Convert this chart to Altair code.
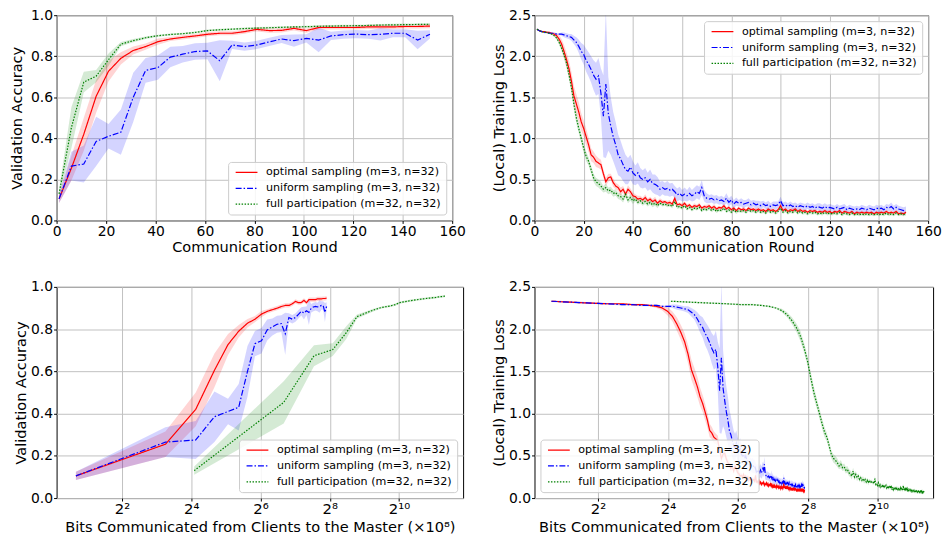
import altair as alt
import pandas as pd

METHODS = ["optimal sampling (m=3, n=32)",
           "uniform sampling (m=3, n=32)",
           "full participation (m=32, n=32)"]
COLORS = ["#ff0000", "#0000ff", "#008000"]
DASHES = [[1, 0], [6, 2, 1.5, 2], [1.5, 1.5]]
CLIENTS_PER_ROUND = [3, 3, 32]
BITS_PER_CLIENT_ROUND = 0.53  # (x10^8 bits)

# ---------------- validation accuracy (every 5 rounds) ----------------
ACC_ROUNDS = list(range(1, 152, 5))
ACC_OPT = [0.105, 0.255, 0.42, 0.605, 0.727, 0.79, 0.828, 0.847, 0.871, 0.884, 0.892,
           0.899, 0.907, 0.912, 0.912, 0.920, 0.931, 0.925, 0.926, 0.936, 0.925,
           0.940, 0.940, 0.940, 0.940, 0.943, 0.943, 0.943, 0.945, 0.945, 0.947]
ACC_OPT_SD = [0.02, 0.06, 0.08, 0.08, 0.05, 0.03, 0.02, 0.015, 0.015, 0.01, 0.01,
              0.01, 0.01, 0.01, 0.01, 0.01, 0.01, 0.01, 0.01, 0.01, 0.01,
              0.01, 0.01, 0.01, 0.01, 0.01, 0.01, 0.01, 0.01, 0.01, 0.01]
ACC_UNI = [0.105, 0.265, 0.275, 0.385, 0.41, 0.43, 0.60, 0.731, 0.745, 0.796, 0.81,
           0.823, 0.826, 0.778, 0.855, 0.847, 0.855, 0.870, 0.884, 0.876, 0.887,
           0.879, 0.899, 0.905, 0.908, 0.905, 0.907, 0.912, 0.912, 0.879, 0.907]
ACC_UNI_SD = [0.02, 0.07, 0.09, 0.12, 0.06, 0.11, 0.12, 0.06, 0.06, 0.05, 0.04,
              0.04, 0.04, 0.10, 0.02, 0.02, 0.02, 0.02, 0.02, 0.03, 0.02,
              0.06, 0.02, 0.02, 0.02, 0.02, 0.03, 0.02, 0.02, 0.045, 0.02]
ACC_FULL = [0.13, 0.453, 0.674, 0.703, 0.783, 0.859, 0.876, 0.89, 0.90, 0.906, 0.91,
            0.916, 0.925, 0.929, 0.932, 0.935, 0.937, 0.939, 0.941, 0.943, 0.944,
            0.946, 0.947, 0.948, 0.949, 0.950, 0.952, 0.953, 0.954, 0.955, 0.956]
ACC_FULL_SD = [0.02, 0.10, 0.05, 0.03, 0.03, 0.01, 0.008, 0.006, 0.005, 0.005, 0.005,
               0.005, 0.005, 0.005, 0.005, 0.005, 0.005, 0.005, 0.005, 0.005, 0.005,
               0.005, 0.005, 0.005, 0.005, 0.005, 0.005, 0.005, 0.005, 0.005, 0.005]

# ---------------- (local) training loss (every round) ----------------
LOSS_ROUNDS = list(range(1, 152))
LOSS_OPT = [2.33, 2.31, 2.30, 2.30, 2.29, 2.29, 2.28, 2.27, 2.25, 2.21,
            2.15, 2.06, 1.96, 1.85, 1.70, 1.52, 1.42, 1.32, 1.20, 1.12,
            1.02, 0.92, 0.80, 0.77, 0.72, 0.70, 0.68, 0.57, 0.47, 0.52,
            0.53, 0.46, 0.42, 0.40, 0.35, 0.38, 0.32, 0.38, 0.35, 0.30,
            0.29, 0.26, 0.27, 0.25, 0.28, 0.24, 0.26, 0.23, 0.25, 0.21,
            0.24, 0.22, 0.23, 0.21, 0.22, 0.20, 0.27, 0.19, 0.20, 0.18,
            0.21, 0.17, 0.19, 0.16, 0.18, 0.17, 0.19, 0.15, 0.17, 0.16,
            0.18, 0.15, 0.17, 0.14, 0.16, 0.15, 0.18, 0.14, 0.16, 0.13,
            0.15, 0.12, 0.15, 0.13, 0.14, 0.12, 0.15, 0.13, 0.14, 0.12,
            0.14, 0.12, 0.13, 0.11, 0.14, 0.12, 0.13, 0.11, 0.13, 0.18,
            0.12, 0.14, 0.11, 0.13, 0.12, 0.14, 0.11, 0.13, 0.11, 0.12,
            0.10, 0.12, 0.11, 0.12, 0.10, 0.11, 0.10, 0.12, 0.10, 0.11,
            0.09, 0.11, 0.10, 0.12, 0.09, 0.11, 0.10, 0.09, 0.11, 0.08,
            0.10, 0.09, 0.10, 0.09, 0.10, 0.09, 0.10, 0.08, 0.10, 0.09,
            0.10, 0.09, 0.11, 0.09, 0.10, 0.09, 0.11, 0.08, 0.09, 0.08,
            0.10]
LOSS_OPT_SD = [0.01, 0.01, 0.01, 0.01, 0.01, 0.01, 0.01, 0.02, 0.03, 0.05,
               0.06, 0.08, 0.09, 0.10, 0.11, 0.12, 0.12, 0.12, 0.11, 0.10,
               0.10, 0.09, 0.08, 0.07, 0.07, 0.06, 0.06, 0.05, 0.05, 0.05,
               0.04, 0.05, 0.04, 0.04, 0.05, 0.04, 0.04, 0.05, 0.04, 0.04,
               0.03, 0.04, 0.03, 0.03, 0.04, 0.03, 0.03, 0.03, 0.04, 0.03,
               0.03, 0.03, 0.02, 0.03, 0.03, 0.02, 0.04, 0.03, 0.02, 0.03,
               0.02, 0.03, 0.02, 0.02, 0.03, 0.02, 0.03, 0.02, 0.02, 0.03,
               0.02, 0.02, 0.03, 0.02, 0.02, 0.02, 0.03, 0.02, 0.02, 0.02,
               0.03, 0.02, 0.02, 0.02, 0.03, 0.02, 0.02, 0.02, 0.02, 0.03,
               0.02, 0.02, 0.02, 0.03, 0.02, 0.02, 0.02, 0.02, 0.02, 0.03,
               0.02, 0.02, 0.02, 0.02, 0.03, 0.02, 0.02, 0.02, 0.02, 0.02,
               0.02, 0.02, 0.02, 0.02, 0.02, 0.02, 0.02, 0.02, 0.02, 0.02,
               0.02, 0.02, 0.02, 0.02, 0.02, 0.02, 0.02, 0.02, 0.02, 0.02,
               0.02, 0.02, 0.02, 0.02, 0.02, 0.02, 0.02, 0.02, 0.02, 0.02,
               0.02, 0.02, 0.02, 0.02, 0.02, 0.02, 0.02, 0.02, 0.02, 0.02,
               0.02]
LOSS_UNI = [2.33, 2.31, 2.30, 2.29, 2.29, 2.28, 2.28, 2.28, 2.27, 2.27,
            2.27, 2.26, 2.25, 2.24, 2.23, 2.20, 2.17, 2.12, 2.06, 2.02,
            1.95, 1.90, 1.84, 1.77, 1.72, 1.76, 1.55, 1.27, 1.66, 1.30,
            1.15, 1.02, 0.92, 0.80, 0.75, 0.68, 0.62, 0.60, 0.65, 0.58,
            0.55, 0.58, 0.52, 0.50, 0.52, 0.47, 0.50, 0.45, 0.44, 0.42,
            0.38, 0.40, 0.38, 0.39, 0.37, 0.38, 0.35, 0.31, 0.33, 0.30,
            0.32, 0.30, 0.33, 0.30, 0.32, 0.35, 0.33, 0.40, 0.30, 0.27,
            0.26, 0.27, 0.25, 0.26, 0.24, 0.25, 0.23, 0.27, 0.22, 0.25,
            0.20, 0.23, 0.21, 0.22, 0.20, 0.21, 0.22, 0.19, 0.21, 0.19,
            0.20, 0.18, 0.20, 0.18, 0.19, 0.17, 0.19, 0.18, 0.19, 0.24,
            0.18, 0.19, 0.17, 0.19, 0.17, 0.18, 0.16, 0.18, 0.17, 0.16,
            0.18, 0.16, 0.17, 0.15, 0.17, 0.16, 0.15, 0.17, 0.15, 0.16,
            0.15, 0.14, 0.16, 0.14, 0.15, 0.16, 0.13, 0.15, 0.14, 0.13,
            0.14, 0.13, 0.15, 0.14, 0.13, 0.15, 0.14, 0.13, 0.15, 0.14,
            0.15, 0.13, 0.16, 0.15, 0.17, 0.14, 0.16, 0.14, 0.13, 0.12,
            0.13]
LOSS_UNI_SD = [0.01, 0.01, 0.01, 0.01, 0.01, 0.01, 0.01, 0.01, 0.01, 0.01,
               0.02, 0.03, 0.03, 0.03, 0.04, 0.05, 0.06, 0.08, 0.10, 0.12,
               0.14, 0.15, 0.16, 0.18, 0.20, 0.22, 0.30, 0.50, 0.90, 0.45,
               0.35, 0.30, 0.28, 0.25, 0.22, 0.20, 0.18, 0.16, 0.15, 0.14,
               0.12, 0.13, 0.12, 0.11, 0.12, 0.11, 0.12, 0.11, 0.12, 0.11,
               0.09, 0.08, 0.08, 0.09, 0.08, 0.08, 0.07, 0.08, 0.08, 0.07,
               0.08, 0.07, 0.08, 0.07, 0.08, 0.08, 0.08, 0.09, 0.07, 0.06,
               0.05, 0.05, 0.05, 0.05, 0.05, 0.05, 0.05, 0.06, 0.05, 0.05,
               0.05, 0.05, 0.04, 0.05, 0.05, 0.04, 0.05, 0.05, 0.04, 0.05,
               0.04, 0.05, 0.04, 0.04, 0.05, 0.04, 0.04, 0.05, 0.04, 0.05,
               0.04, 0.04, 0.04, 0.04, 0.04, 0.04, 0.04, 0.04, 0.04, 0.04,
               0.04, 0.04, 0.04, 0.04, 0.04, 0.05, 0.04, 0.04, 0.04, 0.04,
               0.04, 0.04, 0.04, 0.04, 0.04, 0.04, 0.04, 0.04, 0.04, 0.04,
               0.04, 0.04, 0.04, 0.04, 0.04, 0.04, 0.04, 0.04, 0.04, 0.04,
               0.04, 0.04, 0.04, 0.04, 0.05, 0.04, 0.04, 0.04, 0.04, 0.04,
               0.04]
LOSS_FULL = [2.33, 2.31, 2.30, 2.29, 2.29, 2.28, 2.27, 2.25, 2.22, 2.17,
             2.10, 2.02, 1.92, 1.78, 1.62, 1.42, 1.25, 1.12, 1.00, 0.88,
             0.78, 0.72, 0.62, 0.52, 0.47, 0.45, 0.42, 0.38, 0.40, 0.36,
             0.37, 0.33, 0.34, 0.30, 0.29, 0.26, 0.32, 0.25, 0.28, 0.24,
             0.26, 0.22, 0.24, 0.21, 0.23, 0.20, 0.22, 0.19, 0.21, 0.18,
             0.21, 0.19, 0.20, 0.18, 0.19, 0.17, 0.23, 0.16, 0.17, 0.15,
             0.18, 0.14, 0.16, 0.13, 0.15, 0.14, 0.16, 0.12, 0.14, 0.13,
             0.15, 0.12, 0.14, 0.11, 0.13, 0.12, 0.15, 0.11, 0.13, 0.10,
             0.13, 0.10, 0.12, 0.11, 0.12, 0.10, 0.13, 0.11, 0.12, 0.10,
             0.12, 0.10, 0.11, 0.09, 0.12, 0.10, 0.11, 0.09, 0.11, 0.15,
             0.10, 0.12, 0.09, 0.11, 0.10, 0.12, 0.09, 0.11, 0.09, 0.10,
             0.08, 0.10, 0.09, 0.10, 0.08, 0.09, 0.08, 0.10, 0.08, 0.09,
             0.08, 0.09, 0.08, 0.10, 0.07, 0.09, 0.08, 0.07, 0.09, 0.07,
             0.08, 0.07, 0.08, 0.07, 0.08, 0.07, 0.08, 0.07, 0.08, 0.07,
             0.08, 0.07, 0.09, 0.07, 0.08, 0.07, 0.09, 0.07, 0.08, 0.07,
             0.08]
LOSS_FULL_SD = [0.01, 0.01, 0.01, 0.01, 0.01, 0.01, 0.01, 0.01, 0.02, 0.03,
                0.04, 0.05, 0.06, 0.06, 0.06, 0.07, 0.07, 0.06, 0.06, 0.06,
                0.06, 0.05, 0.05, 0.05, 0.05, 0.05, 0.05, 0.04, 0.05, 0.04,
                0.04, 0.04, 0.04, 0.04, 0.04, 0.04, 0.04, 0.04, 0.04, 0.04,
                0.03, 0.03, 0.03, 0.03, 0.03, 0.03, 0.03, 0.03, 0.03, 0.03,
                0.02, 0.02, 0.02, 0.02, 0.02, 0.02, 0.03, 0.02, 0.02, 0.02,
                0.02, 0.02, 0.02, 0.02, 0.02, 0.02, 0.02, 0.02, 0.02, 0.02,
                0.02, 0.02, 0.02, 0.02, 0.02, 0.02, 0.02, 0.02, 0.02, 0.02,
                0.02, 0.02, 0.02, 0.02, 0.02, 0.02, 0.02, 0.02, 0.02, 0.02,
                0.02, 0.02, 0.02, 0.02, 0.02, 0.02, 0.02, 0.02, 0.02, 0.02,
                0.02, 0.02, 0.02, 0.02, 0.02, 0.02, 0.02, 0.02, 0.02, 0.02,
                0.02, 0.02, 0.02, 0.02, 0.02, 0.02, 0.02, 0.02, 0.02, 0.02,
                0.02, 0.02, 0.02, 0.02, 0.02, 0.02, 0.02, 0.02, 0.02, 0.02,
                0.02, 0.02, 0.02, 0.02, 0.02, 0.02, 0.02, 0.02, 0.02, 0.02,
                0.02, 0.02, 0.02, 0.02, 0.02, 0.02, 0.02, 0.02, 0.02, 0.02,
                0.02]

FONT = "DejaVu Sans"
SUP_LABELS = ("datum.value == 4 ? '2\u00b2' : datum.value == 16 ? '2\u2074' : "
              "datum.value == 64 ? '2\u2076' : datum.value == 256 ? '2\u2078' : "
              "'2\u00b9\u2070'")


def long_frame(rounds, series, sds):
    rows = []
    for name, m, vals, sd in zip(METHODS, CLIENTS_PER_ROUND, series, sds):
        for r, v, s in zip(rounds, vals, sd):
            rows.append({"method": name, "round": r,
                         "bits": r * m * BITS_PER_CLIENT_ROUND,
                         "mean": v, "lo": v - s, "hi": v + s})
    return pd.DataFrame(rows)


acc_df = long_frame(ACC_ROUNDS, [ACC_OPT, ACC_UNI, ACC_FULL],
                    [ACC_OPT_SD, ACC_UNI_SD, ACC_FULL_SD])
loss_df = long_frame(LOSS_ROUNDS, [LOSS_OPT, LOSS_UNI, LOSS_FULL],
                     [LOSS_OPT_SD, LOSS_UNI_SD, LOSS_FULL_SD])


def panel(df, xfield, xscale, xaxis, ymax, ystep, ytitle, legend_orient,
          width, height, ytitle_pad):
    yvals = [round(i * ystep, 2) for i in range(int(round(ymax / ystep)) + 1)]
    yscale = alt.Scale(domain=[0, ymax], nice=False, zero=False)
    yaxis = alt.Axis(title=ytitle, values=yvals, format=".1f",
                     titlePadding=ytitle_pad)
    legend = alt.Legend(title=None, orient=legend_orient, offset=6)
    base = alt.Chart(df)
    layers = []
    for name, col in zip(METHODS, COLORS):
        layers.append(
            base.transform_filter(alt.datum.method == name)
            .mark_area(opacity=0.17, clip=True, color=col)
            .encode(
                x=alt.X(xfield, type="quantitative", scale=xscale, axis=xaxis),
                y=alt.Y("lo:Q", scale=yscale, axis=yaxis),
                y2="hi:Q",
            )
        )
    line = base.mark_line(strokeWidth=1.2, clip=True).encode(
        x=alt.X(xfield, type="quantitative", scale=xscale, axis=xaxis),
        y=alt.Y("mean:Q", scale=yscale, axis=yaxis),
        color=alt.Color("method:N", scale=alt.Scale(domain=METHODS, range=COLORS),
                        legend=legend),
        strokeDash=alt.StrokeDash("method:N",
                                  scale=alt.Scale(domain=METHODS, range=DASHES),
                                  legend=legend),
    )
    layers.append(line)
    return alt.layer(*layers).properties(width=width, height=height)


round_scale = alt.Scale(domain=[0, 160], nice=False, zero=False)
round_axis = alt.Axis(title="Communication Round", values=list(range(0, 161, 20)))
bits_title = "Bits Communicated from Clients to the Master (\u00d710\u2078)"
bits_axis = alt.Axis(title=bits_title, values=[4, 16, 64, 256, 1024],
                     labelExpr=SUP_LABELS, labelFontSize=15, titlePadding=3)

tl = panel(acc_df, "round", round_scale, round_axis, 1.0, 0.2,
           "Validation Accuracy", "bottom-right", 399, 207, 6)
tr = panel(loss_df, "round", round_scale, round_axis, 2.5, 0.5,
           "(Local) Training Loss", "top-right", 397, 207, 2)
bl = panel(acc_df, "bits",
           alt.Scale(type="log", base=2, domain=[1.08, 3690], nice=False),
           bits_axis, 1.0, 0.2, "Validation Accuracy", "bottom-right", 410, 213, 2)
br = panel(loss_df, "bits",
           alt.Scale(type="log", base=2, domain=[1.136, 3061], nice=False),
           bits_axis, 2.5, 0.5, "(Local) Training Loss", "bottom-left", 402, 213, 2)

resolve_kw = dict(color="independent", strokeDash="independent")
top = alt.hconcat(tl, tr, spacing=83, bounds="flush").resolve_scale(**resolve_kw).resolve_legend(**resolve_kw)
bottom = alt.hconcat(bl, br, spacing=72, bounds="flush").resolve_scale(**resolve_kw).resolve_legend(**resolve_kw)

chart = alt.vconcat(top, bottom, spacing=24).resolve_scale(**resolve_kw).resolve_legend(
    **resolve_kw
).properties(
    padding={"left": 1, "top": -3, "right": 2, "bottom": 0}
).configure_view(
    stroke="black", strokeWidth=1
).configure_axis(
    labelFont=FONT, titleFont=FONT, labelFontSize=14, titleFontSize=14.7,
    labelColor="black", titleColor="black", titleFontWeight="normal",
    gridColor="#c0c0c0", gridWidth=1, domain=False, tickColor="black",
    tickSize=3, labelPadding=1, labelFlush=False, labelOverlap=False,
    labelBound=False
).configure_axisX(
    titlePadding=1
).configure_legend(
    labelFont=FONT, labelFontSize=11.2, labelColor="black",
    symbolType="M-1,0H6.33", symbolSize=36, symbolStrokeWidth=1.2,
    fillColor="rgba(255,255,255,0.85)", strokeColor="#cccccc",
    cornerRadius=3, padding=5, rowPadding=4, labelOffset=22, labelLimit=400
)

chart.save("out.html", embed_options={"renderer": "svg", "actions": False})
